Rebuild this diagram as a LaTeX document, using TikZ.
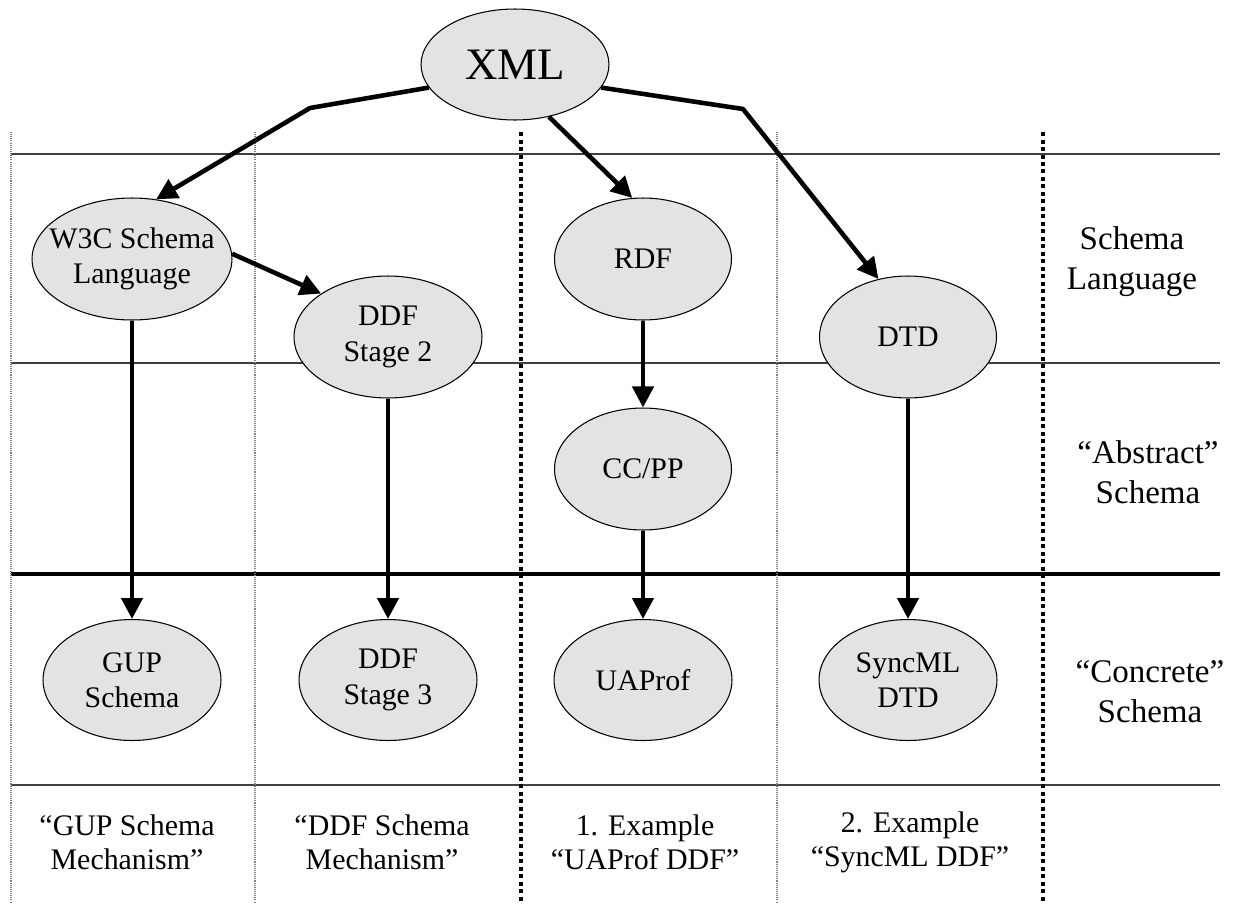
\documentclass[tikz,border=0pt]{standalone}
\usepackage{fontspec}
\setmainfont{Liberation Serif}
\usetikzlibrary{shapes.geometric, arrows.meta}

\begin{document}
\begin{tikzpicture}[x=0.02cm, y=-0.02cm,
    oval/.style={ellipse, draw, fill=gray!22, line width=0.6pt,
      minimum width=#1, minimum height=2.44cm,
      inner xsep=-0.3cm, inner ysep=0pt, align=center,
      font=\fontsize{17}{20}\selectfont},
    oval/.default=3.54cm,
    arr/.style={line width=2.6pt, line join=round,
      -{Triangle[length=0.42cm, width=0.42cm]}},
    rowlabel/.style={align=center, font=\fontsize{18.8}{22.8}\selectfont},
    collabel/.style={align=center, font=\fontsize{17}{19.3}\selectfont},
    thinrule/.style={line width=0.8pt, black!75},
    thinsep/.style={line width=0.6pt, gray, dash pattern=on 0.6pt off 0.6pt},
    thicksep/.style={line width=2.4pt, dash pattern=on 0.08cm off 0.07cm}]

    \useasboundingbox (0,0) rectangle (1233,903);

    % Horizontal rules
    \foreach \y in {154, 363, 785}
      \draw[thinrule] (11,\y) -- (1220,\y);
    \draw[line width=2.8pt] (11,574) -- (1220,574);

    % Column separators
    \foreach \x in {11, 255, 777}
      \draw[thinsep] (\x,132) -- (\x,903);
    \foreach \x in {521, 1043}
      \draw[thicksep] (\x,132) -- (\x,903);

    % Root
    \node[oval=3.76cm, minimum height=2.22cm,
      font=\fontsize{25.6}{30}\selectfont] (xml) at (515,64.5) {XML};

    % Schema languages
    \node[oval=4cm] (w3c) at (132,259) {W3C Schema\\Language};
    \node[oval=3.76cm] (ddf2) at (388,337) {DDF\\Stage 2};
    \node[oval] (rdf) at (643,259) {RDF};
    \node[oval] (dtd) at (908,337) {DTD};

    % Abstract schema
    \node[oval] (ccpp) at (643,469) {CC/PP};

    % Concrete schemas
    \node[oval=3.56cm, minimum height=2.42cm] (gup) at (132,680) {GUP\\Schema};
    \node[oval=3.56cm, minimum height=2.42cm] (ddf3) at (388,680) {DDF\\Stage 3};
    \node[oval=3.56cm, minimum height=2.42cm] (uaprof) at (643,680) {UAProf};
    \node[oval=3.56cm, minimum height=2.42cm] (syncml) at (908,680) {SyncML\\DTD};

    % Bends of the outer connectors
    \coordinate (bendl) at (310,108);
    \coordinate (bendr) at (743,109);

    % Connectors
    \draw[arr] (xml.195) -- (bendl) -- (w3c.68);
    \draw[arr] (xml.-57) -- (rdf.100);
    \draw[arr] (xml.-15) -- (bendr) -- (dtd.117);
    \draw[arr] (w3c.3) -- (ddf2.147);
    \draw[arr] (w3c) -- (gup);
    \draw[arr] (ddf2) -- (ddf3);
    \draw[arr] (rdf) -- (ccpp);
    \draw[arr] (ccpp) -- (uaprof);
    \draw[arr] (dtd) -- (syncml);

    % Row labels
    \node[rowlabel] (rowlang) at (1132,262) {Schema\\Language};
    \node[rowlabel] (rowabs) at (1148,472) {“Abstract”\\Schema};
    \node[rowlabel] (rowcon) at (1150,692) {“Concrete”\\Schema};

    % Column labels
    \node[collabel] (colgup) at (127,842) {“GUP Schema\\Mechanism”};
    \node[collabel] (colddf) at (382,842) {“DDF Schema\\Mechanism”};
    \node[collabel] (coluap) at (645,842) {1. Example\\“UAProf DDF”};
    \node[collabel] (colsync) at (910,842) {2. Example\\“SyncML DDF”};
\end{tikzpicture}
\end{document}
